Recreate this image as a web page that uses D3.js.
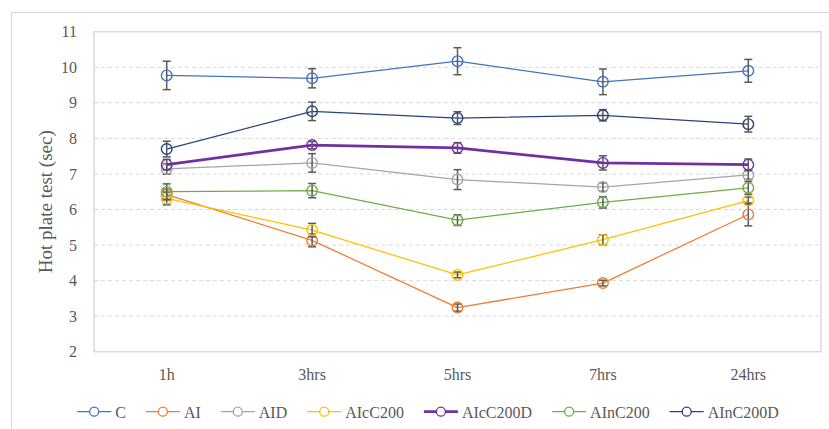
<!DOCTYPE html>
<html>
<head>
<meta charset="utf-8">
<script src="https://cdn.jsdelivr.net/npm/d3@7"></script>
<style>
  html, body { margin: 0; padding: 0; background: #fff; }
  svg { display: block; font-family: "Liberation Serif", "Times New Roman", serif; }
</style>
</head>
<body>
<svg id="chart" width="829" height="429"></svg>
<script>
// Time points after treatment
const categories = ["1h", "3hrs", "5hrs", "7hrs", "24hrs"];
const seriesNames = ["C", "AI", "AID", "AIcC200", "AIcC200D", "AInC200", "AInC200D"];

// Mean latency (sec) per group
const valC        = [9.77, 9.69, 10.17, 9.59, 9.90];
const valAI       = [6.42, 5.13, 3.24, 3.93, 5.86];
const valAID      = [7.14, 7.31, 6.84, 6.63, 6.97];
const valAIcC200  = [6.31, 5.42, 4.16, 5.15, 6.25];
const valAIcC200D = [7.26, 7.81, 7.73, 7.31, 7.26];
const valAInC200  = [6.50, 6.53, 5.70, 6.20, 6.61];
const valAInC200D = [7.70, 8.76, 8.57, 8.65, 8.40];

// Standard error per group
const errC        = [0.40, 0.27, 0.38, 0.36, 0.32];
const errAI       = [0.15, 0.18, 0.10, 0.08, 0.32];
const errAID      = [0.15, 0.26, 0.28, 0.12, 0.12];
const errAIcC200  = [0.18, 0.19, 0.08, 0.14, 0.10];
const errAIcC200D = [0.15, 0.10, 0.15, 0.20, 0.16];
const errAInC200  = [0.22, 0.20, 0.15, 0.16, 0.18];
const errAInC200D = [0.22, 0.26, 0.18, 0.16, 0.22];

const yTicks = [2, 3, 4, 5, 6, 7, 8, 9, 10, 11];

const seriesColors = ["#4472C4", "#ED7D31", "#A5A5A5", "#FFC000", "#7030A0", "#70AD47", "#264478"];
const seriesWidths = [1.25, 1.25, 1.25, 1.25, 2.75, 1.25, 1.25];

const allValues = [valC, valAI, valAID, valAIcC200, valAIcC200D, valAInC200, valAInC200D];
const allErrors = [errC, errAI, errAID, errAIcC200, errAIcC200D, errAInC200, errAInC200D];

const series = seriesNames.map((name, i) => ({
  name,
  color: seriesColors[i],
  width: seriesWidths[i],
  points: categories.map((c, j) => ({ cat: c, v: allValues[i][j], e: allErrors[i][j] }))
}));

const svg = d3.select("#chart");
const textColor = "#595959";
const gridColor = "#D9D9D9";

// Outer chart frame
svg.append("rect")
  .attr("x", 11.5).attr("y", 12.5)
  .attr("width", 840).attr("height", 440)
  .attr("fill", "none").attr("stroke", "#D9D9D9").attr("stroke-width", 1);

const plot = { left: 94, right: 821, top: 31.7, bottom: 351.7 };

const x = d3.scaleBand().domain(categories).range([plot.left, plot.right]);
const y = d3.scaleLinear().domain([2, 11]).range([plot.bottom, plot.top]);
const cx = c => x(c) + x.bandwidth() / 2;

// Dashed horizontal gridlines
svg.append("g")
  .selectAll("line")
  .data(yTicks.filter(t => t > 2 && t < 11))
  .join("line")
  .attr("x1", plot.left).attr("x2", plot.right)
  .attr("y1", d => y(d)).attr("y2", d => y(d))
  .attr("stroke", gridColor).attr("stroke-width", 1)
  .attr("stroke-dasharray", "4,3");

// Plot area border
svg.append("rect")
  .attr("x", plot.left).attr("y", plot.top)
  .attr("width", plot.right - plot.left).attr("height", plot.bottom - plot.top)
  .attr("fill", "none").attr("stroke", gridColor).attr("stroke-width", 1.5);

// Axes
const yAxis = svg.append("g")
  .attr("transform", `translate(${plot.left},0)`)
  .call(d3.axisLeft(y).tickValues(yTicks).tickSize(0).tickPadding(17).tickFormat(d3.format("d")));
const xAxis = svg.append("g")
  .attr("transform", `translate(0,${plot.bottom})`)
  .call(d3.axisBottom(x).tickSize(0).tickPadding(17));
[yAxis, xAxis].forEach(g => {
  g.select(".domain").remove();
  g.selectAll("text")
    .attr("fill", textColor)
    .style("font-family", "'Liberation Serif', serif")
    .style("font-size", "16px");
});

// Y axis title
svg.append("text")
  .attr("transform", `translate(52,${(plot.top + plot.bottom) / 2 + 10}) rotate(-90)`)
  .attr("text-anchor", "middle")
  .attr("fill", textColor)
  .style("font-size", "19px")
  .text("Hot plate test (sec)");

const line = d3.line().x(d => cx(d.cat)).y(d => y(d.v));

// Series: line, error bars, markers
series.forEach(s => {
  const g = svg.append("g");
  g.append("path")
    .datum(s.points)
    .attr("d", line)
    .attr("fill", "none")
    .attr("stroke", s.color)
    .attr("stroke-width", s.width)
    .attr("stroke-linejoin", "round");

  const eb = g.append("g").attr("stroke", "#595959").attr("stroke-width", 1.5);
  s.points.forEach(p => {
    const px = cx(p.cat);
    eb.append("line").attr("x1", px).attr("x2", px).attr("y1", y(p.v - p.e)).attr("y2", y(p.v + p.e));
    eb.append("line").attr("x1", px - 4).attr("x2", px + 4).attr("y1", y(p.v + p.e)).attr("y2", y(p.v + p.e));
    eb.append("line").attr("x1", px - 4).attr("x2", px + 4).attr("y1", y(p.v - p.e)).attr("y2", y(p.v - p.e));
  });

  g.selectAll("circle")
    .data(s.points)
    .join("circle")
    .attr("cx", d => cx(d.cat))
    .attr("cy", d => y(d.v))
    .attr("r", 5.3)
    .attr("fill", "none")
    .attr("stroke", s.color)
    .attr("stroke-width", 1.4);
});

// Legend, laid out from measured label widths and centred
const legend = svg.append("g");
const legendY = 411.7;
const items = series.map(s => {
  const it = legend.append("g");
  it.append("line")
    .attr("x1", 0).attr("x2", 34).attr("y1", legendY).attr("y2", legendY)
    .attr("stroke", s.color).attr("stroke-width", s.width);
  it.append("circle")
    .attr("cx", 17).attr("cy", legendY).attr("r", 4.5)
    .attr("fill", "#fff").attr("stroke", s.color).attr("stroke-width", 1.3);
  const t = it.append("text")
    .attr("x", 38).attr("y", legendY + 5.8)
    .attr("fill", textColor)
    .style("font-size", "16px")
    .text(s.name);
  return { g: it, w: 38 + t.node().getComputedTextLength() };
});
const gap = 20;
const total = d3.sum(items, d => d.w) + gap * (items.length - 1);
let pos = 428 - total / 2;
items.forEach(d => {
  d.g.attr("transform", `translate(${pos},0)`);
  pos += d.w + gap;
});
</script>
</body>
</html>
